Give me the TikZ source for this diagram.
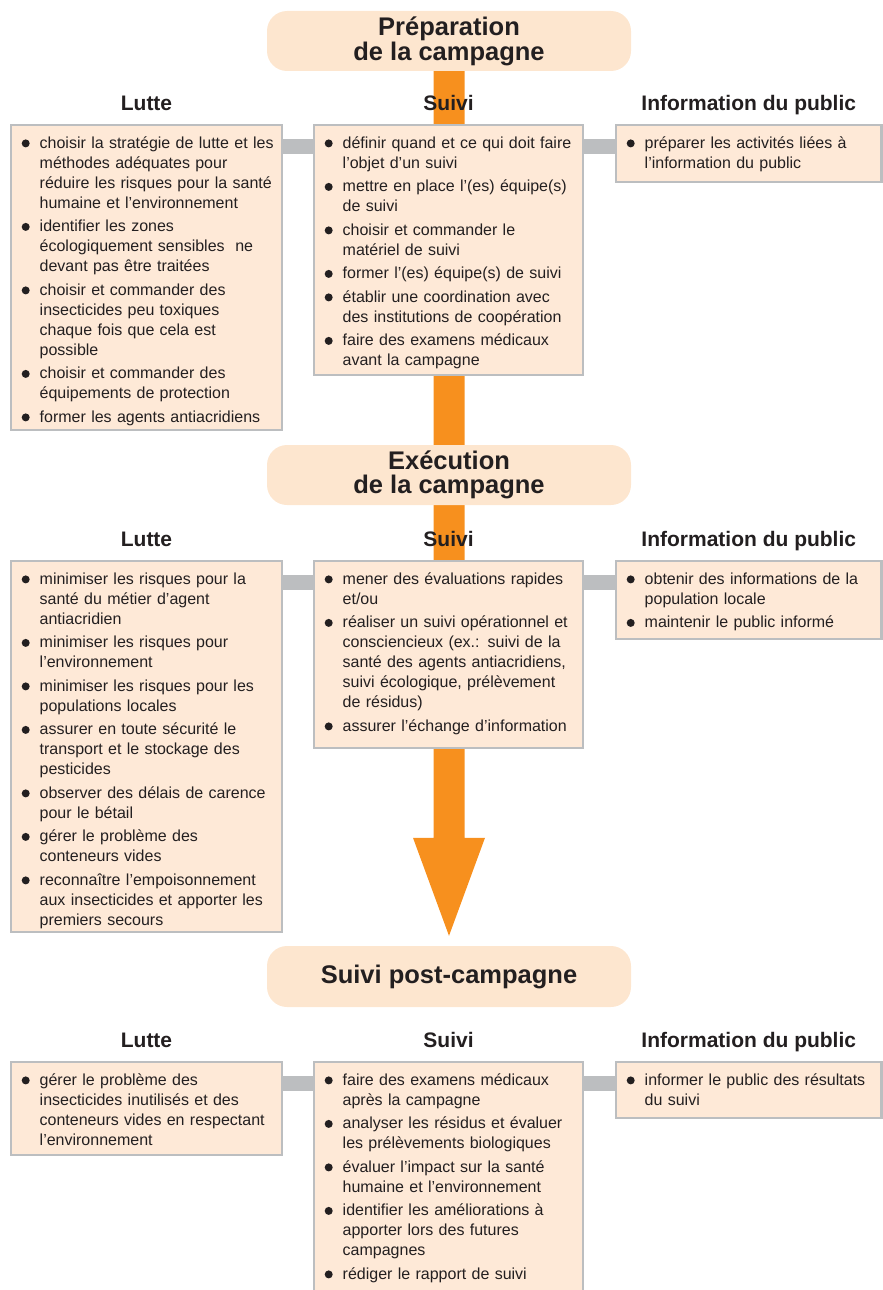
\documentclass[tikz,border=0pt]{standalone}
\usepackage{fontspec}
\setmainfont{Liberation Sans}
\usetikzlibrary{calc,backgrounds}

\definecolor{peach}{HTML}{FEE9D7}
\definecolor{headpeach}{HTML}{FDE6CF}
\definecolor{edge}{HTML}{BCBEC0}
\definecolor{flow}{HTML}{F7901E}
\definecolor{ink}{HTML}{231F20}

% round bullet and list item with hanging indent
\newlength\itemgap
\setlength\itemgap{3.5pt}
\newcommand\bulletdot{\tikz[baseline=-4.8pt]\fill[ink] (4pt,0pt) circle[radius=4pt];}
\newcommand\firstitm{\noindent\hangindent=17.5pt\hangafter=1\relax
  \hbox to 17.5pt{\kern-0.5pt\bulletdot\hss}\vrule height 13pt width 0pt\relax}
\newcommand\itm{\par\vskip\itemgap\firstitm}
\newcommand\nl{\newline}

\begin{document}
\begin{tikzpicture}[x=1pt,y=-1pt,
  panel/.style={draw=edge, line width=2.5pt, fill=peach, anchor=north west, inner sep=0pt, outer sep=0pt},
  itemtext/.style={anchor=north west, inner sep=0pt, text width=262pt, align=left, text=ink,
    font=\fontsize{16}{20}\selectfont},
  heading/.style={fill=headpeach, rounded corners=20pt, minimum width=364pt, minimum height=60pt,
    inner sep=0pt, align=center, text=ink, font=\bfseries\fontsize{25.5}{23.5}\selectfont},
  colhead/.style={anchor=base, text=ink, font=\bfseries\fontsize{21}{24}\selectfont, inner sep=0pt},
  link/.style={draw=edge, line width=15pt},
]
\useasboundingbox (0,0) rectangle (883,1290);
\clip (0,0) rectangle (883,1290);

% ---------- phase headings ----------
\node[heading] (prep) at (449,41) {Préparation\\de la campagne};
\node[heading] (exec) at (449,475) {Exécution\\de la campagne};
\node[heading, minimum height=61pt] (post) at (449,976.5) {Suivi post-campagne};

% ---------- phase 1 ----------
\node[panel, minimum width=271pt, minimum height=305pt] (L1) at (11,125) {};
\node[panel, minimum width=269pt, minimum height=250pt] (S1) at (314,125) {};
\node[panel, minimum width=265.5pt, minimum height=57pt] (I1) at (616,125) {};
\node[colhead] (L1h) at ($(L1.north)+(0,-15)$) {Lutte};
\node[colhead] (S1h) at ($(S1.north)+(0,-15)$) {Suivi};
\node[colhead] (I1h) at ($(I1.north)+(0,-15)$) {Information du public};

\node[itemtext] (L1t) at ($(L1.north west)+(11,10)$) {\firstitm
choisir la stratégie de lutte et les\nl méthodes adéquates pour\nl réduire les risques pour la santé\nl humaine et l’environnement
\itm identifier les zones\nl écologiquement sensibles~ ne\nl devant pas être traitées
\itm choisir et commander des\nl insecticides peu toxiques\nl chaque fois que cela est\nl possible
\itm choisir et commander des\nl équipements de protection
\itm former les agents antiacridiens\par};
\node[itemtext] (S1t) at ($(S1.north west)+(11,10)$) {\firstitm
définir quand et ce qui doit faire\nl l’objet d’un suivi
\itm mettre en place l’(es) équipe(s)\nl de suivi
\itm choisir et commander le\nl matériel de suivi
\itm former l’(es) équipe(s) de suivi
\itm établir une coordination avec\nl des institutions de coopération
\itm faire des examens médicaux\nl avant la campagne\par};
\node[itemtext] (I1t) at ($(I1.north west)+(11,10)$) {\firstitm
préparer les activités liées à\nl l’information du public\par};

% ---------- phase 2 ----------
\node[panel, minimum width=271pt, minimum height=371pt] (L2) at (11,561) {};
\node[panel, minimum width=269pt, minimum height=187pt] (S2) at (314,561) {};
\node[panel, minimum width=265.5pt, minimum height=78pt] (I2) at (616,561) {};
\node[colhead] (L2h) at ($(L2.north)+(0,-15)$) {Lutte};
\node[colhead] (S2h) at ($(S2.north)+(0,-15)$) {Suivi};
\node[colhead] (I2h) at ($(I2.north)+(0,-15)$) {Information du public};

\node[itemtext] (L2t) at ($(L2.north west)+(11,10)$) {\firstitm
minimiser les risques pour la\nl santé du métier d’agent\nl antiacridien
\itm minimiser les risques pour\nl l’environnement
\itm minimiser les risques pour les\nl populations locales
\itm assurer en toute sécurité le\nl transport et le stockage des\nl pesticides
\itm observer des délais de carence\nl pour le bétail
\itm gérer le problème des\nl conteneurs vides
\itm reconnaître l’empoisonnement\nl aux insecticides et apporter les\nl premiers secours\par};
\node[itemtext] (S2t) at ($(S2.north west)+(11,10)$) {\firstitm
mener des évaluations rapides\nl et/ou
\itm réaliser un suivi opérationnel et\nl consciencieux (ex.: suivi de la\nl santé des agents antiacridiens,\nl suivi écologique, prélèvement\nl de résidus)
\itm assurer l’échange d’information\par};
\node[itemtext] (I2t) at ($(I2.north west)+(11,10)$) {\firstitm
obtenir des informations de la\nl population locale
\itm maintenir le public informé\par};

% ---------- phase 3 ----------
\node[panel, minimum width=271pt, minimum height=93pt] (L3) at (11,1062) {};
\node[panel, minimum width=269pt, minimum height=260pt] (S3) at (314,1062) {};
\node[panel, minimum width=265.5pt, minimum height=56pt] (I3) at (616,1062) {};
\node[colhead] (L3h) at ($(L3.north)+(0,-15)$) {Lutte};
\node[colhead] (S3h) at ($(S3.north)+(0,-15)$) {Suivi};
\node[colhead] (I3h) at ($(I3.north)+(0,-15)$) {Information du public};

\node[itemtext] (L3t) at ($(L3.north west)+(11,10)$) {\firstitm
gérer le problème des\nl insecticides inutilisés et des\nl conteneurs vides en respectant\nl l’environnement\par};
\node[itemtext] (S3t) at ($(S3.north west)+(11,10)$) {\firstitm
faire des examens médicaux\nl après la campagne
\itm analyser les résidus et évaluer\nl les prélèvements biologiques
\itm évaluer l’impact sur la santé\nl humaine et l’environnement
\itm identifier les améliorations à\nl apporter lors des futures\nl campagnes
\itm rédiger le rapport de suivi\par};
\node[itemtext] (I3t) at ($(I3.north west)+(11,10)$) {\firstitm
informer le public des résultats\nl du suivi\par};

% ---------- flow arrow and links behind the panels ----------
\begin{scope}[on background layer]
  \fill[flow] ($(prep.south)+(-15.5,0)$) -- ($(prep.south)+(15.5,0)$)
    -- ($(post.north)+(15.5,-108)$) -- ($(post.north)+(36,-108)$)
    -- ($(post.north)+(0,-10)$)
    -- ($(post.north)+(-36,-108)$) -- ($(post.north)+(-15.5,-108)$) -- cycle;
  \foreach \r in {1,2,3}{
    \draw[link] ($(L\r.north east)+(0,21.5)$) -- ($(S\r.north west)+(0,21.5)$);
    \draw[link] ($(S\r.north east)+(0,21.5)$) -- ($(I\r.north west)+(0,21.5)$);
  }
\end{scope}
\end{tikzpicture}
\end{document}
